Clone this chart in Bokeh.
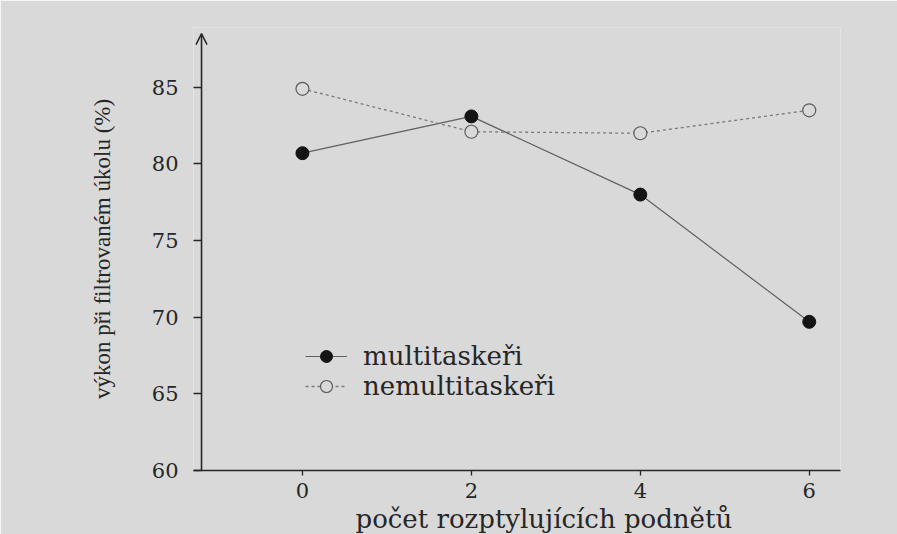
from bokeh.plotting import figure
from bokeh.models import Legend, LegendItem, Arrow, OpenHead, FixedTicker, Range1d, Title
from bokeh.embed import file_html
from bokeh.resources import INLINE

# ---- data ----
x_vals = [0, 2, 4, 6]
multitaskers = [80.7, 83.1, 78.0, 69.7]
non_multitaskers = [84.9, 82.1, 82.0, 83.5]
x_ticks = [0, 2, 4, 6]
y_ticks = [60, 65, 70, 75, 80, 85]
series_names = ["multitaskeři", "nemultitaskeři"]
x_label = "počet rozptylujících podnětů"
y_label = "výkon při filtrovaném úkolu (%)"

# ---- layout constants ----
X_START, X_END = -1.29, 6.37     # frame extent
Y_AXIS_AT = -1.195               # where the y axis line is drawn
Y_START, Y_END = 60, 88.9
Y_TIP = 88.5                     # arrow tip of the y axis

BG = "#d9d9d9"
INK = "#262626"
SERIF = "DejaVu Serif"

p = figure(width=897, height=534,
           x_range=Range1d(X_START, X_END), y_range=Range1d(Y_START, Y_END),
           output_backend="svg", toolbar_location=None,
           min_border_left=193, min_border_right=57,
           min_border_top=27, min_border_bottom=64)
p.background_fill_color = BG
p.border_fill_color = BG
p.outline_line_color = None
p.xgrid.grid_line_color = None
p.ygrid.grid_line_color = None

# y axis line with arrow head
p.add_layout(Arrow(end=OpenHead(size=11, line_color=INK, line_width=1.5),
                   x_start=Y_AXIS_AT, y_start=Y_START, x_end=Y_AXIS_AT, y_end=Y_TIP,
                   line_color=INK, line_width=1.6))

# series
r1_line = p.line(x_vals, multitaskers, line_color="#606060", line_width=1.2)
r1_pts = p.scatter(x_vals, multitaskers, size=13, fill_color="#141414", line_color="#141414")
r2_line = p.line(x_vals, non_multitaskers, line_color="#7a7a7a", line_width=1.3, line_dash="3 3")
r2_pts = p.scatter(x_vals, non_multitaskers, size=13, fill_color=BG, line_color="#5a5a5a", line_width=1.2)

# axes
for ax in (p.xaxis[0], p.yaxis[0]):
    ax.major_tick_line_color = INK
    ax.major_tick_line_width = 1.3
    ax.minor_tick_line_color = None
    ax.major_label_text_font = SERIF
    ax.major_label_text_color = INK
    ax.axis_label_text_color = INK
    ax.axis_label_text_font_style = "normal"

p.xaxis.axis_line_color = INK
p.xaxis.axis_line_width = 1.6
p.yaxis.axis_line_color = None

p.xaxis.ticker = FixedTicker(ticks=x_ticks)
p.yaxis.ticker = FixedTicker(ticks=y_ticks)
p.xaxis.major_tick_in = 0
p.xaxis.major_tick_out = 5
p.yaxis.major_tick_in = 8
p.yaxis.major_tick_out = 0
p.xaxis.major_label_text_font_size = "21px"
p.yaxis.major_label_text_font_size = "21px"
p.xaxis.major_label_standoff = 7
p.yaxis.major_label_standoff = 15
p.yaxis.axis_label = y_label
p.yaxis.axis_label_text_font = "Liberation Serif"
p.yaxis.axis_label_text_font_size = "23px"
p.yaxis.axis_label_standoff = 34

# x axis title, placed like in the reference (slightly right of centre)
x_title = Title(text=x_label, align="left", offset=162, standoff=2,
                text_font=SERIF, text_font_size="26px", text_font_style="normal",
                text_color=INK)
p.add_layout(x_title, "below")

legend = Legend(items=[LegendItem(label=series_names[0], renderers=[r1_line, r1_pts]),
                       LegendItem(label=series_names[1], renderers=[r2_line, r2_pts])],
                location=(112, 69))
legend.border_line_color = None
legend.background_fill_alpha = 0
legend.padding = 0
legend.margin = 0
legend.spacing = 0
legend.glyph_width = 42
legend.glyph_height = 30
legend.label_height = 30
legend.label_standoff = 16
legend.label_text_font = SERIF
legend.label_text_font_size = "26px"
legend.label_text_color = INK
p.add_layout(legend)

open("out.html", "w").write(file_html(p, INLINE))
